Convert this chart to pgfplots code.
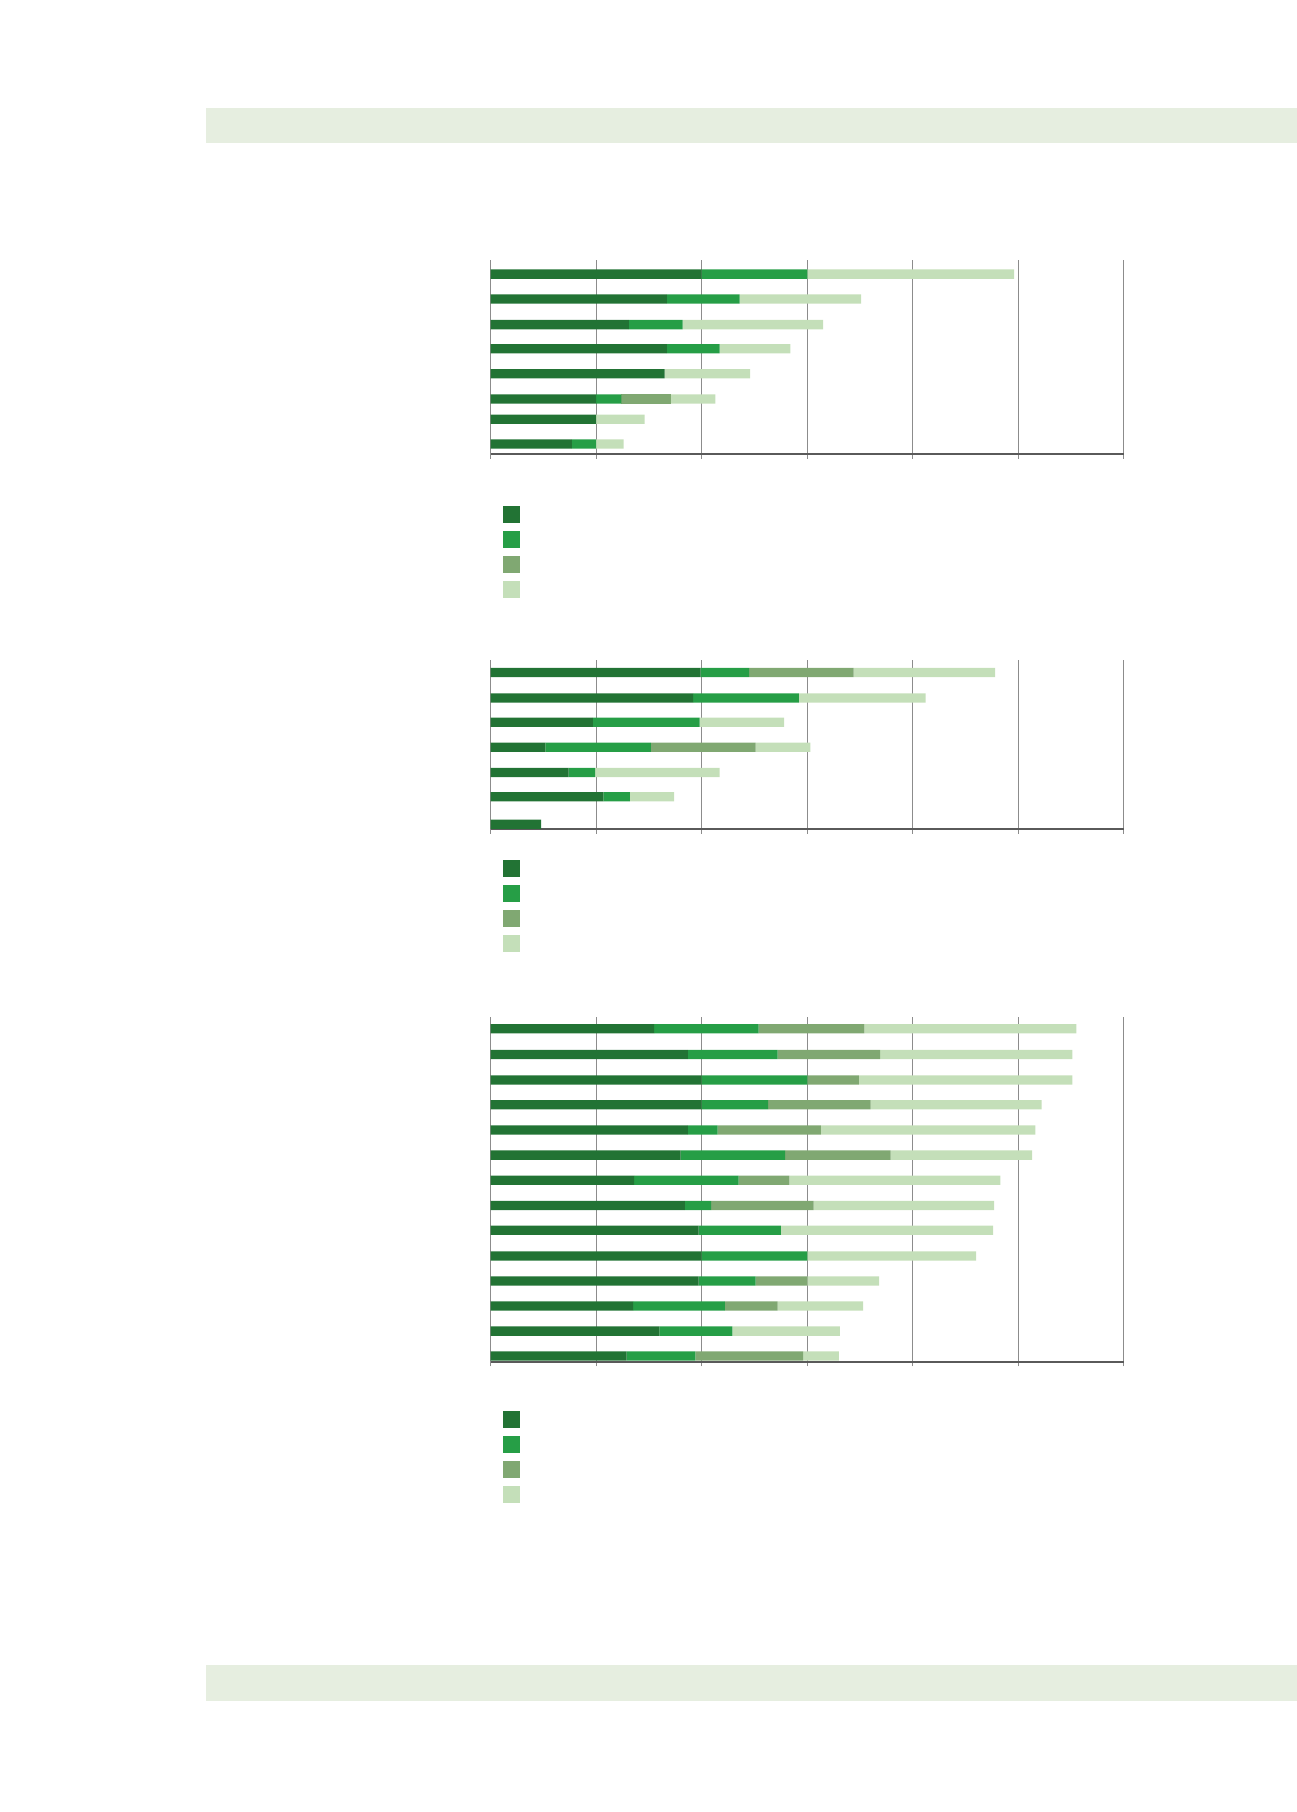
\documentclass[border=0pt]{standalone}
\usepackage{pgfplots}
\pgfplotsset{compat=1.18}
\usepackage{pgfplotstable}
\definecolor{cDark}{RGB}{34,115,52}
\definecolor{cMid}{RGB}{38,158,70}
\definecolor{cGray}{RGB}{128,168,114}
\definecolor{cLight}{RGB}{196,223,185}
\definecolor{cBand}{RGB}{230,238,224}
\definecolor{cGrid}{RGB}{140,140,140}
\definecolor{cAxis}{RGB}{90,90,90}

\pgfplotstableread{
y a b c d
-274.1 20.0 10.0 0 19.6
-298.9 16.7 6.9 0 11.5
-324.6 13.1 5.1 0 13.3
-348.7 16.7 5.0 0 6.7
-373.7 16.5 0 0 8.1
-399.0 10.0 2.4 4.7 4.2
-419.3 10.0 0 0 4.6
-444.0 7.7 2.3 0 2.6
}\tA

\pgfplotstableread{
y a b c d
-672.4 19.9 4.6 9.9 13.4
-697.9 19.2 10.0 0 12.0
-722.2 9.7 10.1 0 8.0
-747.2 5.2 10.0 9.9 5.2
-772.4 7.4 2.5 0 11.8
-796.7 10.7 2.5 0 4.2
-824.2 4.8 0 0 0
}\tB

\pgfplotstableread{
y a b c d
-1028.7 15.5 9.9 10.0 20.1
-1054.5 18.7 8.5 9.7 18.2
-1080.0 20.0 10.0 4.9 20.2
-1104.8 20.0 6.3 9.7 16.2
-1130.0 18.7 2.8 9.8 20.3
-1155.1 18.0 9.9 10.0 13.4
-1180.3 13.6 9.9 4.8 20.0
-1205.4 18.4 2.5 9.7 17.1
-1230.2 19.7 7.8 0 20.1
-1256.0 20.0 10.0 0 16.0
-1280.9 19.7 5.4 4.9 6.8
-1306.0 13.5 8.7 5.0 8.1
-1331.1 16.0 6.9 0 10.2
-1356.0 12.9 6.5 10.2 3.4
}\tC

\pgfplotsset{mybars/.style={
  xbar stacked, bar width=9.3, scale only axis, width=316.75pt,
  xmin=0, xmax=60,
  xtick={0,10,...,60}, xticklabels={}, ytick=\empty,
  xmajorgrids, grid style={draw=cGrid, line width=0.5pt},
  axis x line=bottom, axis y line=left,
  axis line style={-},
  x axis line style={-, draw=cAxis, line width=0.85pt},
  y axis line style={-, draw=cGrid, line width=0.5pt},
  tick align=outside, major tick length=2.3pt,
  xtick style={draw=cGrid, line width=0.5pt},
  legend style={at={(0,0)}, anchor=north west, draw=none, fill=none,
    inner sep=0pt, outer sep=0pt, row sep=3.85pt, column sep=0pt,
    nodes={inner sep=0pt, outer sep=0pt}},
  legend image code/.code={\fill[##1] (0pt,-4.325pt) rectangle (8.65pt,4.325pt);},
  every axis plot/.append style={draw=none},
}}

\begin{document}
\begin{tikzpicture}
\path[use as bounding box] (0pt,0pt) rectangle (648.5pt,-906pt);
\fill[cBand] (103pt,-53.75pt) rectangle (648.5pt,-71.65pt);
\fill[cBand] (103pt,-832.3pt) rectangle (648.5pt,-850.3pt);

\begin{axis}[mybars, at={(245.25pt,-227.15pt)}, anchor=south west,
  height=97.1pt, ymin=-454.3, ymax=-260.1,
  legend style={xshift=6.25pt, yshift=-25.75pt}]
\addplot[fill=cDark] table[x=a,y=y]{\tA}; \addlegendentry{\mbox{}}
\addplot[fill=cMid] table[x=b,y=y]{\tA}; \addlegendentry{\mbox{}}
\addplot[fill=cGray] table[x=c,y=y]{\tA}; \addlegendentry{\mbox{}}
\addplot[fill=cLight] table[x=d,y=y]{\tA}; \addlegendentry{\mbox{}}
\end{axis}

\begin{axis}[mybars, at={(245.25pt,-414.45pt)}, anchor=south west,
  height=84.4pt, ymin=-828.9, ymax=-660.1,
  legend style={xshift=6.25pt, yshift=-15.6pt}]
\addplot[fill=cDark] table[x=a,y=y]{\tB}; \addlegendentry{\mbox{}}
\addplot[fill=cMid] table[x=b,y=y]{\tB}; \addlegendentry{\mbox{}}
\addplot[fill=cGray] table[x=c,y=y]{\tB}; \addlegendentry{\mbox{}}
\addplot[fill=cLight] table[x=d,y=y]{\tB}; \addlegendentry{\mbox{}}
\end{axis}

\begin{axis}[mybars, at={(245.25pt,-680.9pt)}, anchor=south west,
  height=172.25pt, ymin=-1361.8, ymax=-1017.3,
  legend style={xshift=6.25pt, yshift=-24.45pt}]
\addplot[fill=cDark] table[x=a,y=y]{\tC}; \addlegendentry{\mbox{}}
\addplot[fill=cMid] table[x=b,y=y]{\tC}; \addlegendentry{\mbox{}}
\addplot[fill=cGray] table[x=c,y=y]{\tC}; \addlegendentry{\mbox{}}
\addplot[fill=cLight] table[x=d,y=y]{\tC}; \addlegendentry{\mbox{}}
\end{axis}
\end{tikzpicture}
\end{document}
